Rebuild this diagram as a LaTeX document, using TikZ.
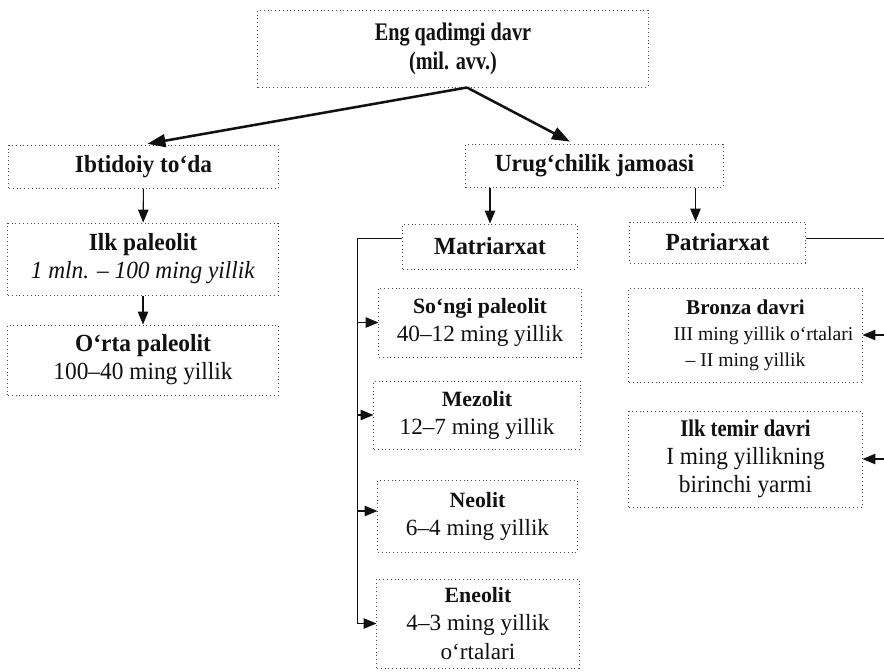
\documentclass[tikz,border=0pt]{standalone}
\usepackage{fontspec}
\setmainfont{Liberation Serif}
\newfontfamily\headserif[FakeStretch=0.8]{Liberation Serif}
\newfontfamily\bodyserif[FakeStretch=0.95]{Liberation Serif}
\newfontfamily\titleserif[FakeStretch=0.86]{Liberation Serif}
\usepackage{xcolor}
\usetikzlibrary{arrows.meta,calc,positioning}
\definecolor{BoxEdge}{HTML}{4A4A4A}
\definecolor{InkBlack}{HTML}{111111}

\begin{document}
\begin{tikzpicture}[x=0.025cm,y=-0.025cm,
        era/.style={draw=BoxEdge, dotted, line width=0.7pt, align=center,
            inner sep=0pt, text=InkBlack, font=\bodyserif\fontsize{17.5}{20}\selectfont},
        subera/.style={era, font=\fontsize{16.5}{20}\selectfont},
        link/.style={InkBlack, line width=0.8pt,
            -{Triangle[length=0.32cm,width=0.26cm]}},
        mainlink/.style={InkBlack, line width=1.8pt, shorten >=0.1cm,
            -{Triangle[length=0.45cm,width=0.32cm]}},
        rail/.style={InkBlack, line width=0.8pt}]
    \useasboundingbox[fill=white] (0,0) rectangle (884,672);

    \node[era, minimum width=9.75cm, minimum height=1.925cm,
        font=\headserif\fontsize{18}{20.5}\selectfont\bfseries] (davr) at (453,48.5)
        {Eng qadimgi davr\\(mil. avv.)};

    \node[era, minimum width=6.725cm, minimum height=1.075cm] (ibt) at (143.5,166.5)
        {\textbf{Ibtidoiy to‘da}};
    \node[era, minimum width=6.425cm, minimum height=1.075cm] (urug) at (594.5,165.5)
        {\textbf{Urug‘chilik jamoasi}};

    \node[era, minimum width=6.75cm, minimum height=1.8cm] (ilk) at (143,259)
        {\textbf{Ilk paleolit}\\\textit{1 mln. – 100 ming yillik}};
    \node[era, minimum width=6.75cm, minimum height=1.75cm] (orta) at (143,360)
        {\textbf{O‘rta paleolit}\\100–40 ming yillik};

    \node[era, minimum width=4.35cm, minimum height=1.125cm] (matr) at (490,246.5)
        {\textbf{Matriarxat}};
    \node[era, minimum width=4.375cm, minimum height=1.025cm] (patr) at (717.5,242.5)
        {\textbf{Patriarxat}};

    \node[subera, minimum width=5.05cm, minimum height=1.725cm] (songi) at (480,322.5)
        {\textbf{\fontsize{15.5}{20}\selectfont So‘ngi paleolit}\\40–12 ming yillik};
    \node[subera, minimum width=5.15cm, minimum height=1.7cm] (mezo) at (477,415)
        {\textbf{\fontsize{15.5}{20}\selectfont Mezolit}\\12–7 ming yillik};
    \node[subera, minimum width=4.975cm, minimum height=1.8cm] (neo) at (477.5,516)
        {\textbf{\fontsize{15.5}{20}\selectfont Neolit}\\6–4 ming yillik};
    \node[subera, minimum width=5.05cm, minimum height=2.225cm] (eneo) at (478,623.5)
        {\textbf{\fontsize{15.5}{20}\selectfont Eneolit}\\4–3 ming yillik\\o‘rtalari};

    \node[era, minimum width=5.825cm, minimum height=2.35cm,
        font=\fontsize{14}{18.5}\selectfont] (bronza) at (745.5,335)
        {\textbf{\fontsize{15}{18.5}\selectfont Bronza davri}\\\hspace*{0.9cm}III ming yillik o‘rtalari\\– II ming yillik};
    \node[era, minimum width=5.825cm, minimum height=2.4cm] (temir) at (745.5,459)
        {\textbf{\titleserif\fontsize{17}{20}\selectfont Ilk temir davri}\\I ming yillikning\\birinchi yarmi};

    \coordinate (split) at ($(davr.south)+(14,0)$);
    \draw[mainlink] (split) -- (ibt.north);
    \draw[mainlink] (split) -- ($(urug.north)+(-21,0)$);

    \draw[link] (ibt) -- (ilk);
    \draw[link] (ilk) -- (orta);

    \coordinate (patrin) at ($(patr.north)+(-22,0)$);
    \draw[link] (matr.north |- urug.south) -- (matr.north);
    \draw[link] (patrin |- urug.south) -- (patrin);

    \coordinate (mrail) at ($(matr.west)+(-45,-8)$);
    \draw[rail] (matr.west |- mrail) -- (mrail) -- (mrail |- eneo.west);
    \draw[link] (mrail |- songi.west) -- (songi.west);
    \draw[link] (mrail |- mezo.west) -- (mezo.west);
    \draw[link] ($(mrail |- neo.west)+(0,-5)$) -- ($(neo.west)+(0,-5)$);
    \draw[link] (mrail |- eneo.west) -- (eneo.west);

    \coordinate (prail) at ($(patr.east)+(80,-4)$);
    \draw[rail] (patr.east |- prail) -- (prail) -- (prail |- temir.east);
    \draw[link] (prail |- bronza.east) -- (bronza.east);
    \draw[link] (prail |- temir.east) -- (temir.east);
\end{tikzpicture}
\end{document}
